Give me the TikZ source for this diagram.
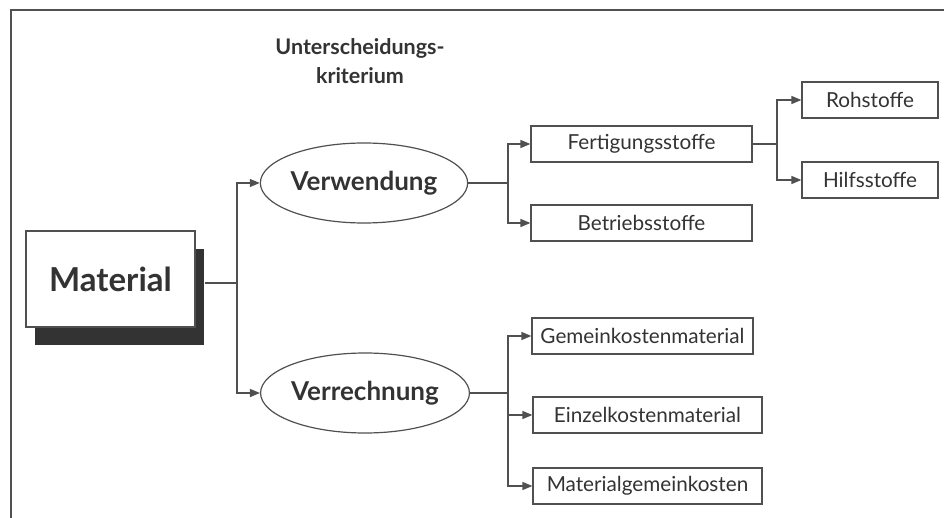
\documentclass[tikz,border=0pt]{standalone}
\usepackage{fontspec}
\setmainfont{Lato}
\usetikzlibrary{arrows.meta,shapes.geometric,shadows}
\definecolor{ink}{HTML}{333333}
\definecolor{rule}{HTML}{505050}
\begin{document}
\begin{tikzpicture}[x=1pt,y=-1pt,
  every node/.style={text=ink},
  conn/.style={draw=rule,line width=1.3pt},
  arr/.style={conn,-{Triangle[length=10pt,width=8pt]}},
  leaf/.style={draw=rule,line width=1.2pt,fill=white,inner sep=0pt,
    font=\fontsize{20.7}{24}\selectfont},
  crit/.style={ellipse,draw=rule,line width=1.2pt,inner sep=0pt,
    minimum width=204pt,minimum height=80pt,
    font=\fontsize{26}{30}\selectfont\bfseries},
  root/.style={draw=rule,line width=1.2pt,fill=white,inner sep=0pt,
    minimum width=169pt,minimum height=96pt,
    font=\fontsize{33}{38}\selectfont\bfseries,
    general shadow={fill=ink,shadow xshift=9pt,shadow yshift=-18pt}}]
\useasboundingbox (0,0) rectangle (944,518);
% open frame: top and left edges
\draw[rule,line width=1.8pt] (944,10) -- (11,10) -- (11,518);

% heading
\node[font=\fontsize{21.5}{29}\selectfont\bfseries,align=center] (head) at (360,61)
  {Unterscheidungs-\\kriterium};

% root
\node[root] (mat) at (110.5,279) {Material};

% criteria
\node[crit] (verw) at (364,183) {Verwendung};
\node[crit] (verr) at (365,393) {Verrechnung};

% leaves by use
\node[leaf,minimum width=221pt,minimum height=36pt] (fert) at (641.5,144) {Fertigungsstoffe};
\node[leaf,minimum width=221pt,minimum height=36pt] (betr) at (641.5,223) {Betriebsstoffe};
\node[leaf,minimum width=136pt,minimum height=36pt] (roh)  at (870,100) {Rohstoffe};
\node[leaf,minimum width=136pt,minimum height=36pt] (hilf) at (870,180) {Hilfsstoffe};

% leaves by accounting
\node[leaf,minimum width=221pt,minimum height=36pt] (gmk) at (642.5,336) {Gemeinkostenmaterial};
\node[leaf,minimum width=229pt,minimum height=36pt] (ekm) at (647.5,415) {Einzelkostenmaterial};
\node[leaf,minimum width=229pt,minimum height=36pt] (mgk) at (647.5,486) {Materialgemeinkosten};

% connectors
\draw[conn] (mat.east) ++(9,4) -- (237,283) coordinate (j1);
\draw[arr] (j1) |- (verw.west);
\draw[arr] (j1) |- (verr.west);

\draw[conn] (verw.east) -- (508,183) coordinate (j2);
\draw[arr] (j2) |- (fert.west);
\draw[arr] (j2) |- (betr.west);

\draw[conn] (fert.east) -- (777,144) coordinate (j3);
\draw[arr] (j3) |- (roh.west);
\draw[arr] (j3) |- (hilf.west);

\draw[conn] (verr.east) -- (508,393) coordinate (j4);
\draw[arr] (j4) |- (gmk.west);
\draw[arr] (j4) |- (ekm.west);
\draw[arr] (j4) |- (mgk.west);
\end{tikzpicture}
\end{document}
